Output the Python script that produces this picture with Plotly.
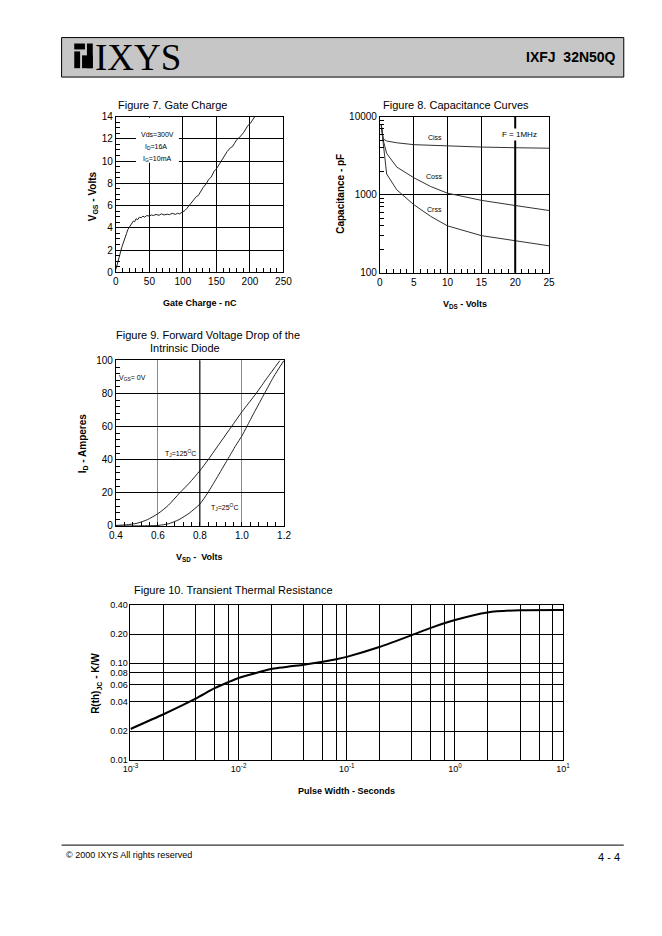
import plotly.graph_objects as go

W, H = 662, 936

# ---------------- data ----------------
# Figure 7: gate charge
gate_charge_nc = [0, 1, 2.4, 4, 5.3, 7, 8.7, 10, 12.1, 14, 16, 18, 20.8, 22, 24.7, 26, 28.1, 30, 32.9, 35,
                  38, 40.2, 43, 46, 49.9, 53, 56, 60, 64.4, 68, 72, 76.5, 80, 84, 88.7, 92, 95, 99.8, 103,
                  106, 108, 111, 114, 117.7, 120, 123, 127.4, 130, 134.7, 138, 142, 146.8, 150, 154, 158.9,
                  162, 166, 171, 174, 177, 180.7, 184, 187, 190.4, 194, 197, 200.1, 204, 207.4]
vgs_volts = [0.25, 0.5, 0.75, 1.2, 1.45, 1.9, 2.2, 2.45, 2.9, 3.2, 3.5, 3.85, 4.1, 4.2, 4.45, 4.6, 4.55, 4.8,
             4.75, 4.95, 4.9, 5.05, 4.95, 5.1, 5.05, 5.15, 5.1, 5.2, 5.12, 5.25, 5.15, 5.22, 5.18, 5.3, 5.2,
             5.3, 5.25, 5.4, 5.55, 5.75, 5.9, 6.1, 6.3, 6.6, 6.8, 6.9, 7.4, 7.6, 7.95, 8.3, 8.55, 9.1, 9.3,
             9.7, 10.2, 10.4, 10.85, 11.2, 11.3, 11.6, 11.95, 12.1, 12.3, 12.55, 12.9, 13.2, 13.35, 13.7, 14.0]

# Figure 8: capacitance curves
vds_volts = [0.2, 0.5, 1, 2.5, 5, 7.5, 10, 15, 20, 25]
ciss_pf = [8000, 5200, 4900, 4650, 4400, 4300, 4200, 4100, 4020, 3960]
coss_pf = [8000, 5000, 3400, 2270, 1660, 1280, 1050, 850, 730, 630]
crss_pf = [7800, 4500, 1850, 1160, 750, 530, 400, 300, 257, 222]

# Figure 9: forward voltage drop of the intrinsic diode
vsd_125 = [0.40, 0.45, 0.50, 0.55, 0.60, 0.65, 0.704, 0.75, 0.80, 0.839, 0.90, 0.95, 1.00, 1.067, 1.12, 1.181]
id_125 = [0.3, 0.7, 1.6, 3.8, 7.4, 12.5, 20, 26, 33.4, 40, 51, 60, 69, 80, 89.5, 100]
vsd_25 = [0.40, 0.50, 0.60, 0.65, 0.70, 0.75, 0.80, 0.837, 0.88, 0.931, 0.97, 1.00, 1.023, 1.06, 1.107, 1.15, 1.20]
id_25 = [0, 0.05, 0.3, 1.3, 3.8, 7.8, 13.3, 20, 29, 40, 48.5, 54.5, 60, 69, 80, 90, 100]

# Figure 10: transient thermal resistance
pulse_s = [1e-3, 2e-3, 4e-3, 6e-3, 8e-3, 1e-2, 2e-2, 4e-2, 6e-2, 8e-2, 1e-1, 2e-1, 4e-1, 6e-1, 1, 2, 4, 10]
rth_kw = [0.0210, 0.0296, 0.0431, 0.0553, 0.0637, 0.0705, 0.0871, 0.0966, 0.1035, 0.110, 0.1165, 0.147,
          0.195, 0.232, 0.279, 0.334, 0.353, 0.355]

fig10_yticks = [0.01, 0.02, 0.04, 0.06, 0.08, 0.10, 0.20, 0.40]
fig10_yticktext = ["0.01", "0.02", "0.04", "0.06", "0.08", "0.10", "0.20", "0.40"]
fig10_xticks = [1e-3, 1e-2, 1e-1, 1, 10]
fig10_xticktext = ["10<sup>-3</sup>", "10<sup>-2</sup>", "10<sup>-1</sup>", "10<sup>0</sup>", "10<sup>1</sup>"]
fig10_xgrid = [k * 10.0 ** e for e in (-3, -2, -1, 0) for k in (2, 4, 6, 8)]
fig8_yminor = [k * 10.0 ** e for e in (2, 3) for k in range(2, 10)]

FONT = "Liberation Sans, Arial, sans-serif"


def X(p):
    return p / W


def Y(p):
    return 1 - p / H


fig = go.Figure()

line_c = "#222222"
fig.add_trace(go.Scatter(x=gate_charge_nc, y=vgs_volts, mode="lines", line=dict(color=line_c, width=1),
                         xaxis="x", yaxis="y", showlegend=False, hoverinfo="skip"))
for ser in (ciss_pf, coss_pf, crss_pf):
    fig.add_trace(go.Scatter(x=vds_volts, y=ser, mode="lines", line=dict(color="#333333", width=1),
                             xaxis="x2", yaxis="y2", showlegend=False, hoverinfo="skip"))
fig.add_trace(go.Scatter(x=vsd_125, y=id_125, mode="lines", line=dict(color=line_c, width=1, shape="spline", smoothing=0.6),
                         xaxis="x3", yaxis="y3", showlegend=False, hoverinfo="skip"))
fig.add_trace(go.Scatter(x=vsd_25, y=id_25, mode="lines", line=dict(color=line_c, width=1, shape="spline", smoothing=0.6),
                         xaxis="x3", yaxis="y3", showlegend=False, hoverinfo="skip"))
fig.add_trace(go.Scatter(x=pulse_s, y=rth_kw, mode="lines", line=dict(color="black", width=2, shape="spline", smoothing=0.5),
                         xaxis="x4", yaxis="y4", showlegend=False, hoverinfo="skip"))

tickfont = dict(family=FONT, size=10, color="black")
base = dict(showline=True, mirror=True, linecolor="black", linewidth=1, showgrid=True, gridcolor="black",
            gridwidth=1, zeroline=False, tickfont=tickfont, ticks="inside", ticklen=4, tickcolor="black")

fig.update_layout(
    width=W, height=H, margin=dict(l=0, r=0, t=0, b=0), paper_bgcolor="white", plot_bgcolor="white",
    font=dict(family=FONT, color="black"),
    xaxis=dict(base, domain=[X(110.7), X(282.7)], anchor="y", range=[0, 250], tickvals=[0, 50, 100, 150, 200, 250],
               minor=dict(ticks="inside", ticklen=4, dtick=10, tickcolor="black", showgrid=False)),
    yaxis=dict(base, domain=[Y(269.7), Y(112)], anchor="x", range=[0, 14], dtick=2,
               minor=dict(ticks="inside", ticklen=4, dtick=0.5, tickcolor="black", showgrid=False)),
    xaxis2=dict(base, domain=[X(381.7), X(555.3)], anchor="y2", range=[0, 25], dtick=5,
                minor=dict(ticks="inside", ticklen=4, dtick=1, tickcolor="black", showgrid=False)),
    yaxis2=dict(base, domain=[Y(270.3), Y(112.3)], anchor="x2", type="log", range=[2, 4],
                tickvals=[100, 1000, 10000], ticktext=["100", "1000", "10000"],
                minor=dict(tickmode="array", tickvals=fig8_yminor, ticks="inside", ticklen=4,
                           tickcolor="black", showgrid=False)),
    xaxis3=dict(base, domain=[X(110.7), X(283.3)], anchor="y3", range=[0.4, 1.2], dtick=0.2, tickformat=".1f",
                gridcolor="#8a8a8a",
                minor=dict(ticks="inside", ticklen=4, dtick=0.04, tickcolor="black", showgrid=False)),
    yaxis3=dict(base, domain=[Y(526.7), Y(359)], anchor="x3", range=[0, 100], dtick=20,
                minor=dict(ticks="inside", ticklen=4, dtick=4, tickcolor="black", showgrid=False)),
    xaxis4=dict(base, domain=[X(125.7), X(569.7)], anchor="y4", type="log", range=[-3, 1],
                tickvals=fig10_xticks, ticktext=fig10_xticktext, ticks="", tickfont=dict(family=FONT, size=9),
                minor=dict(tickmode="array", tickvals=fig10_xgrid, showgrid=True, gridcolor="black", gridwidth=1,
                           ticks="")),
    yaxis4=dict(base, domain=[Y(764), Y(606.7)], anchor="x4", type="log", range=[-2, -0.39794],
                tickvals=fig10_yticks, ticktext=fig10_yticktext, ticks="", tickfont=dict(family=FONT, size=9)),
)

shapes = []
# header band and logo mark
shapes.append(dict(type="rect", xref="paper", yref="paper", x0=X(55), x1=X(632), y0=Y(72), y1=Y(32),
                   fillcolor="#c6c6c6", line=dict(color="black", width=1), layer="below"))
for (a, b, c, d) in [(68, 38, 79, 44), (68, 46, 74, 63), (81, 38, 87, 63), (76, 50, 87, 63)]:
    shapes.append(dict(type="rect", xref="paper", yref="paper", x0=X(a), x1=X(c), y0=Y(d), y1=Y(b),
                       fillcolor="black", line=dict(width=0)))
# footer rule
shapes.append(dict(type="line", xref="paper", yref="paper", x0=X(55), x1=X(632), y0=Y(850), y1=Y(850),
                   line=dict(color="black", width=1)))
# darker gridline at 0.8 V in fig 9
shapes.append(dict(type="line", xref="x3", yref="y3 domain", x0=0.8, x1=0.8, y0=0, y1=1,
                   line=dict(color="black", width=1)))
# heavier gridline at 20 V in fig 8
shapes.append(dict(type="line", xref="x2", yref="y2 domain", x0=20, x1=20, y0=0, y1=1,
                   line=dict(color="black", width=2)))
# white label box in fig 7
shapes.append(dict(type="rect", xref="x", yref="y", x0=30, x1=94, y0=9.85, y1=13.9,
                   fillcolor="white", line=dict(width=0), layer="above"))
fig.update_layout(shapes=shapes)

ann = []


def A(text, x, y, size=10, xanchor="center", yanchor="middle", bold=False, angle=0, family=FONT, xref="paper",
      yref="paper", bg=None):
    t = f"<b>{text}</b>" if bold else text
    d = dict(text=t, x=X(x) if xref == "paper" else x, y=Y(y) if yref == "paper" else y, xref=xref,
             yref=yref, xanchor=xanchor, yanchor=yanchor, showarrow=False, textangle=angle,
             font=dict(family=family, size=size, color="black"))
    if bg:
        d["bgcolor"] = bg
    ann.append(d)


# header texts
A("IXYS", 87, 52, size=37, xanchor="left", family="Liberation Serif, Times New Roman, serif")
A("IXFJ  32N50Q", 626, 52, size=14, xanchor="right", bold=True)

# titles
A("Figure 7. Gate Charge", 111, 100, size=11, xanchor="left")
A("Figure 8. Capacitance Curves", 383, 100, size=11, xanchor="left")
A("Figure 9. Forward Voltage Drop of the", 109, 333, size=11, xanchor="left")
A("Intrinsic Diode", 144, 346, size=11, xanchor="left")
A("Figure 10. Transient Thermal Resistance", 127, 592, size=11, xanchor="left")

# axis titles
A("Gate Charge - nC", 197, 301, size=9, bold=True)
A("V<sub>GS</sub> - Volts", 87, 193, size=10, bold=True, angle=-90)
A("V<sub>DS</sub> - Volts", 469, 302, size=9, bold=True)
A("Capacitance - pF", 341, 190, size=10, bold=True, angle=-90)
A("V<sub>SD</sub> -  Volts", 197, 559, size=9, bold=True)
A("I<sub>D</sub> - Amperes", 77, 443, size=10, bold=True, angle=-90)
A("Pulse Width - Seconds", 347, 795, size=9, bold=True)
A("R(th)<sub>JC</sub> - K/W", 91, 686, size=10, bold=True, angle=-90)

# in-plot labels
A("Vds=300V", 62, 12.4, size=7, xref="x", yref="y")
A("I<sub>D</sub>=16A", 60, 11.3, size=7, xref="x", yref="y")
A("I<sub>G</sub>=10mA", 62, 10.2, size=7, xref="x", yref="y")
A("Ciss", 8.2, 3.74, size=7, xref="x2", yref="y2")
A("Coss", 8.0, 3.23, size=7, xref="x2", yref="y2")
A("Crss", 8.0, 2.81, size=7, xref="x2", yref="y2")
A("F = 1MHz", 20.6, 3.78, size=8, xref="x2", yref="y2", bg="white")
A("V<sub>GS</sub>= 0V", 0.48, 89.5, size=7, xref="x3", yref="y3")
A("T<sub>J</sub>=125<sup>O</sup>C", 0.706, 44, size=7, xref="x3", yref="y3")
A("T<sub>J</sub>=25<sup>O</sup>C", 0.915, 11, size=7, xref="x3", yref="y3")

# footer
A("© 2000 IXYS All rights reserved", 57, 860, size=9, xanchor="left")
A("4 - 4", 630, 862, size=11, xanchor="right")

fig.update_layout(annotations=ann)
fig.write_html("out.html", config={"displayModeBar": False},
               post_script="document.body.style.margin='0';document.body.style.padding='0';"
                           "document.documentElement.style.overflow='hidden';")
